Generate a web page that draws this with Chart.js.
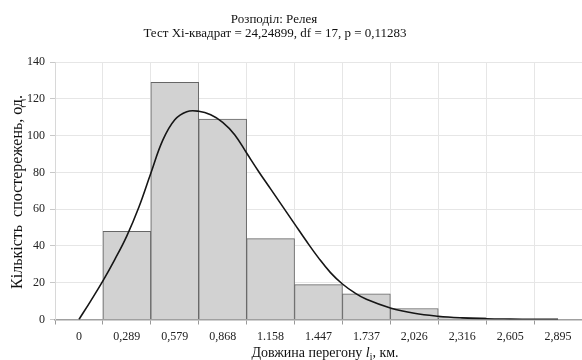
<!DOCTYPE html>
<html>
<head>
<meta charset="utf-8">
<script src="https://cdn.jsdelivr.net/npm/chart.js@4.4.1/dist/chart.umd.min.js"></script>
<style>
  html, body { margin: 0; padding: 0; background: #fff; }
  #wrap { width: 582px; height: 360px; }
</style>
</head>
<body>
<div id="wrap"><canvas id="chartRelei"></canvas></div>
<script>
// Розподіл Релея: гістограма спостережень + теоретична крива
const titleLines = ['Розподіл: Релея', 'Тест Хі-квадрат = 24,24899, df = 17, p = 0,11283'];
const categories = ['0', '0,289', '0,579', '0,868', '1.158', '1.447', '1.737', '2,026', '2,316', '2,605', '2,895'];
const observed = [0, 48, 129, 109, 44, 19, 14, 6, 1, 0, 0];

// крива: позиція в інтервалах (0 = центр першої категорії) і значення, зчитані з рисунку
const curvePos = [0, 0.25, 0.5, 0.75, 1, 1.25, 1.5, 1.75, 2, 2.25, 2.5, 2.75, 3, 3.25, 3.5, 3.75, 4, 4.25, 4.5, 4.75, 5, 5.25, 5.5, 5.75, 6, 6.5, 7, 7.5, 8, 8.5, 9, 9.5, 10];
const curveVal = [0, 10.3, 21, 32.7, 45.5, 61, 79.5, 97.5, 108.6, 113, 113.2, 111.3, 107.2, 100.5, 90.5, 80.5, 71, 61.5, 52, 42.5, 33.5, 25.5, 19.3, 14.6, 11, 6.3, 3.4, 1.8, 0.9, 0.4, 0.2, 0.1, 0.05];

const yTicks = [0, 20, 40, 60, 80, 100, 120, 140];

const serif = '"Liberation Serif", "Times New Roman", serif';

// заголовок і підписи осей малюємо самі (курсив і нижній індекс)
const textPlugin = {
    id: 'textPlugin',
    afterDraw(chart) {
        const ctx = chart.ctx;
        ctx.save();
        ctx.fillStyle = '#111';
        ctx.textBaseline = 'middle';
        ctx.textAlign = 'center';
        ctx.font = '13px ' + serif;
        ctx.fillText(titleLines[0], 274, 19.5);
        ctx.fillText(titleLines[1], 275, 34);

        // вісь Y
        ctx.save();
        ctx.translate(18, 192);
        ctx.rotate(-Math.PI / 2);
        ctx.font = '16px ' + serif;
        ctx.fillText('Кількість  спостережень, од.', 0, 0);
        ctx.restore();

        // вісь X: "Довжина перегону l_i, км."
        const parts = [
            { t: 'Довжина перегону ', f: '14px ' + serif, dy: 0 },
            { t: 'l', f: 'italic 14px ' + serif, dy: 0 },
            { t: 'i', f: '9.5px ' + serif, dy: 3 },
            { t: ', км.', f: '14px ' + serif, dy: 0 }
        ];
        let total = 0;
        parts.forEach(p => { ctx.font = p.f; p.w = ctx.measureText(p.t).width; total += p.w; });
        let x = 325 - total / 2;
        ctx.textAlign = 'left';
        ctx.textBaseline = 'alphabetic';
        parts.forEach(p => {
            ctx.font = p.f;
            ctx.fillText(p.t, x, 356.5 + p.dy);
            x += p.w;
        });
        ctx.restore();
    }
};

new Chart(document.getElementById('chartRelei'), {
    data: {
        labels: categories,
        datasets: [
            {
                type: 'line',
                label: 'Релея',
                xAxisID: 'x2',
                data: curvePos.map((p, i) => ({ x: p, y: curveVal[i] })),
                borderColor: '#161616',
                borderWidth: 1.6,
                pointRadius: 0,
                tension: 0.4,
                fill: false,
                order: 0
            },
            {
                type: 'bar',
                label: 'Спостереження',
                data: observed,
                backgroundColor: '#d2d2d2',
                borderColor: '#666',
                borderWidth: 1,
                barPercentage: 1,
                categoryPercentage: 1,
                grouped: false,
                order: 1
            }
        ]
    },
    options: {
        responsive: true,
        maintainAspectRatio: false,
        animation: false,
        layout: { padding: { left: 0, right: -4, top: 62, bottom: 0 } },
        plugins: {
            legend: { display: false },
            title: { display: false },
            tooltip: { enabled: false }
        },
        scales: {
            x: {
                type: 'category',
                offset: true,
                grid: { offset: true, color: '#e6e6e6', tickColor: '#9a9a9a', tickLength: 5 },
                border: { color: '#a0a0a0', width: 1.5 },
                ticks: {
                    autoSkip: false, maxRotation: 0, padding: 5,
                    color: '#222', font: { family: serif, size: 12 }
                },
                afterFit(scale) { scale.height = 40.5; }
            },
            x2: {
                type: 'linear',
                display: false,
                min: -0.5,
                max: 10.5
            },
            y: {
                min: 0,
                max: 140,
                afterBuildTicks(scale) { scale.ticks = yTicks.map(v => ({ value: v })); },
                grid: { color: '#e6e6e6', tickColor: '#c8c8c8', tickLength: 5 },
                border: { color: '#d8d8d8' },
                ticks: { padding: 5, color: '#222', font: { family: serif, size: 12 } },
                afterFit(scale) { scale.width = 55; }
            }
        }
    },
    plugins: [textPlugin]
});
</script>
</body>
</html>
